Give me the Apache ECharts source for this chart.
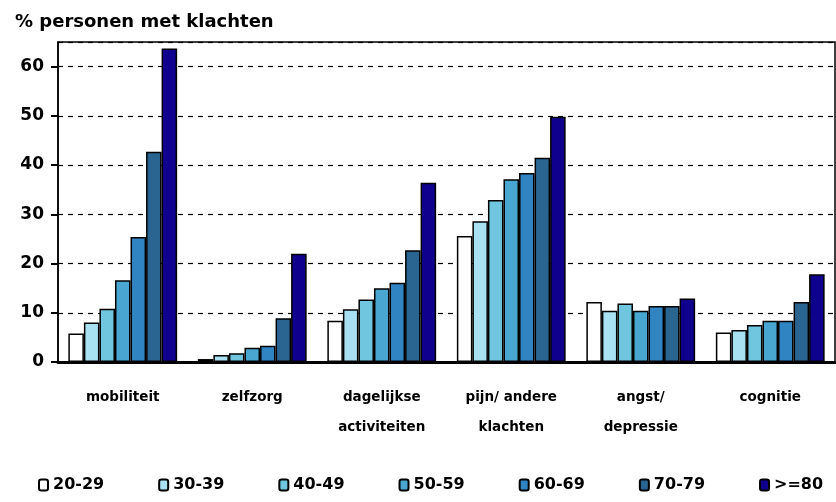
<!DOCTYPE html>
<html>
<head>
<meta charset="utf-8">
<script src="https://cdn.jsdelivr.net/npm/echarts@6/dist/echarts.min.js"></script>
<style>
    html, body { margin: 0; padding: 0; background: #fff; }
    #chart { width: 836px; height: 502px; }
</style>
</head>
<body>
<div id="chart"></div>
<script>
var categories = ['mobiliteit', 'zelfzorg', 'dagelijkse\nactiviteiten', 'pijn/ andere\nklachten', 'angst/\ndepressie', 'cognitie'];
var ageGroups = ['20-29', '30-39', '40-49', '50-59', '60-69', '70-79', '>=80'];
var colors = ['#ffffff', '#a8e2f2', '#70c6de', '#48a6d0', '#3084c2', '#2a6490', '#10008e'];

var v20 = [5.8, 0.6, 8.4, 25.6, 12.2, 6.0];
var v30 = [8.0, 1.4, 10.7, 28.6, 10.4, 6.5];
var v40 = [10.8, 1.8, 12.7, 32.9, 11.9, 7.5];
var v50 = [16.6, 2.9, 15.0, 37.1, 10.4, 8.4];
var v60 = [25.4, 3.3, 16.1, 38.4, 11.4, 8.4];
var v70 = [42.7, 8.9, 22.7, 41.5, 11.4, 12.2];
var v80 = [63.7, 22.0, 36.4, 49.8, 12.9, 17.8];
var values = [v20, v30, v40, v50, v60, v70, v80];

var font = 'DejaVu Sans, Arial, sans-serif';

var series = [];
ageGroups.forEach(function (name, i) {
    series.push({
        name: name,
        type: 'bar',
        data: values[i],
        barGap: '0%',
        barCategoryGap: '16%',
        itemStyle: {
            color: colors[i],
            borderColor: '#000',
            borderWidth: 1.5
        }
    });
});

var chart = echarts.init(document.getElementById('chart'));
chart.setOption({
    animation: false,
    title: {
        text: '% personen met klachten',
        left: 10,
        top: 8,
        textStyle: { fontFamily: font, fontSize: 18, fontWeight: 'bold', color: '#000' }
    },
    legend: {
        data: ageGroups,
        bottom: 4,
        left: 33,
        itemWidth: 9,
        itemHeight: 11,
        itemGap: 54,
        textStyle: { fontFamily: font, fontSize: 16, fontWeight: 'bold', color: '#000' }
    },
    grid: {
        left: 58,
        right: 1,
        top: 42,
        bottom: 140,
        show: true,
        borderColor: '#000',
        borderWidth: 1.5
    },
    xAxis: {
        type: 'category',
        data: categories,
        axisLine: { lineStyle: { color: '#000', width: 3 } },
        axisTick: { show: false },
        axisLabel: {
            margin: 20,
            fontFamily: font,
            fontSize: 13.5,
            fontWeight: 'bold',
            color: '#000',
            lineHeight: 30
        }
    },
    yAxis: {
        type: 'value',
        min: 0,
        max: 65,
        interval: 10,
        axisLine: { show: true, lineStyle: { color: '#000', width: 1.5 } },
        axisTick: { show: true, length: 7, lineStyle: { color: '#000', width: 2 } },
        axisLabel: {
            showMaxLabel: false,
            margin: 14,
            fontFamily: font,
            fontSize: 17,
            fontWeight: 'bold',
            color: '#000'
        },
        splitLine: { lineStyle: { color: '#000', type: [5, 5], width: 1.2 } }
    },
    series: series
});
</script>
</body>
</html>
